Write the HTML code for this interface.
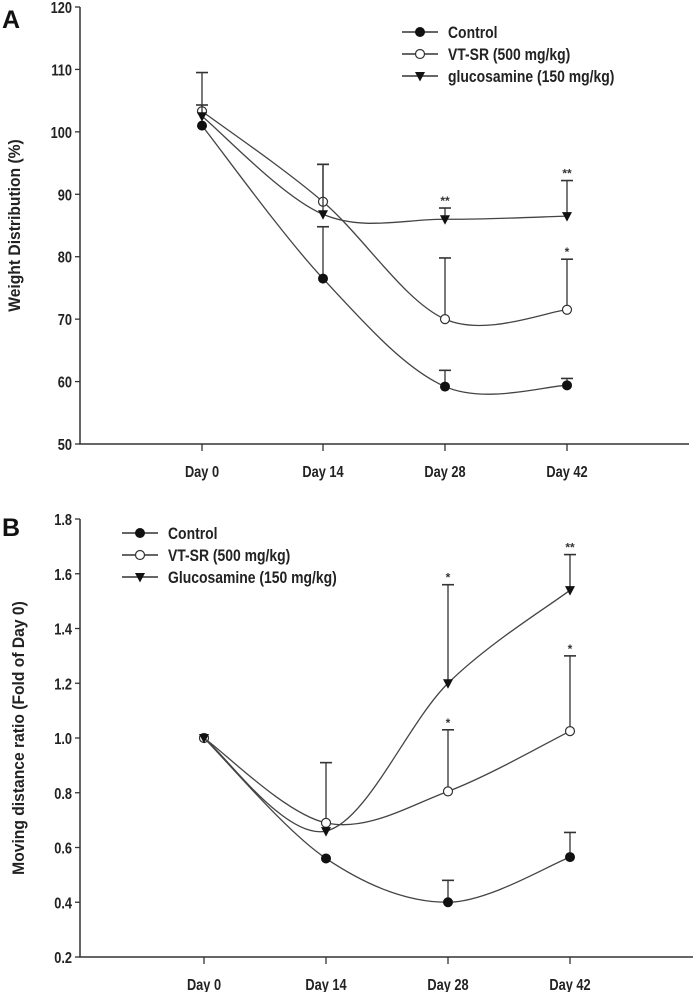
<!DOCTYPE html>
<html><head><meta charset="utf-8"><style>
html,body{margin:0;padding:0;background:#fff;}
svg{display:block;font-family:"Liberation Sans",Arial,sans-serif;font-weight:bold;}
</style></head><body>
<svg id="svg" width="693" height="992" viewBox="0 0 693 992" xmlns="http://www.w3.org/2000/svg"></svg>
<script>
const categories = ["Day 0","Day 14","Day 28","Day 42"];
// Panel A
const aTicks = [50,60,70,80,90,100,110,120];
const aControl = [101,76.5,59.2,59.4];
const aControlErr = [null,84.8,61.8,60.5];
const aVT = [103.3,88.8,70,71.5];
const aVTErr = [104.3,94.8,79.8,79.6];
const aGluc = [102.5,86.8,86,86.5];
const aGlucErr = [109.5,94.8,87.8,92.2];
const aGlucStars = ["","","**","**"];
const aVTStars = ["","","","*"];
// Panel B
const bTicks = [0.2,0.4,0.6,0.8,1.0,1.2,1.4,1.6,1.8];
const bControl = [1.0,0.56,0.40,0.565];
const bControlErr = [null,null,0.48,0.655];
const bVT = [1.0,0.69,0.805,1.025];
const bVTErr = [null,0.91,1.03,1.30];
const bGluc = [1.0,0.66,1.20,1.54];
const bGlucErr = [null,null,1.56,1.67];
const bGlucStars = ["","","*","**"];
const bVTStars = ["","","*","*"];

const NS="http://www.w3.org/2000/svg";
const svg=document.getElementById('svg');
function mk(tag,attrs,parent){const e=document.createElementNS(NS,tag);for(const k in attrs)e.setAttribute(k,attrs[k]);(parent||svg).appendChild(e);return e;}
function txt(s,attrs,parent){const e=mk('text',attrs,parent);e.textContent=s;return e;}
// condensed text: place at (x,y) and squeeze horizontally
function ctxt(s,x,y,size,anchor,parent,sx){
  const e=mk('text',{transform:`translate(${x},${y}) scale(${sx||0.8},1)`,x:0,y:0,'font-size':size,'text-anchor':anchor||'start',fill:'#222'},parent);
  e.textContent=s;return e;
}

function spline(pts){
  let d=`M${pts[0][0]},${pts[0][1]}`;
  for(let i=0;i<pts.length-1;i++){
    const p0=pts[i-1]||pts[i],p1=pts[i],p2=pts[i+1],p3=pts[i+2]||pts[i+1];
    const c1=[p1[0]+(p2[0]-p0[0])/6,p1[1]+(p2[1]-p0[1])/6];
    const c2=[p2[0]-(p3[0]-p1[0])/6,p2[1]-(p3[1]-p1[1])/6];
    d+=` C${c1[0]},${c1[1]} ${c2[0]},${c2[1]} ${p2[0]},${p2[1]}`;
  }
  return d;
}
function marker(g,type,x,y,r){
  if(type==='filled'){const c=mk('circle',{cx:x,cy:y,r:r,fill:'#111',stroke:'#111'},g);}
  else if(type==='open'){const c=mk('circle',{cx:x,cy:y,r:r,fill:'#fff',stroke:'#333','stroke-width':1.2},g);}
  else {const p=mk('polygon',{points:`${x-r-0.5},${y-r+0.5} ${x+r+0.5},${y-r+0.5} ${x},${y+r+1}`,fill:'#111'},g);}
}

function panel(o){
  const g=mk('g',{});
  
  
  const y=v=>o.yBot-(v-o.min)/(o.max-o.min)*(o.yBot-o.yTop);
  const x=i=>o.xs[i];
  const ax=mk('path',{d:`M${o.ax},${o.yTop} V${o.yBot} H${o.axEnd}`,stroke:'#333','stroke-width':1.5,fill:'none'},g);
  
  o.ticks.forEach(t=>{
    mk('line',{x1:o.ax-5,x2:o.ax,y1:y(t),y2:y(t),stroke:'#333','stroke-width':1.3},g);
    const l=ctxt(o.fmt(t),o.ax-8,y(t)+6,16,'end',g);
    
  });
  categories.forEach((c,i)=>{
    mk('line',{x1:x(i),x2:x(i),y1:o.yBot,y2:o.yBot+7,stroke:'#333','stroke-width':1.3},g);
    const l=ctxt(c,x(i),o.yBot+33,16,'middle',g);
    
  });
  const yt=txt(o.ytitle,{transform:`translate(${o.ytx},${(o.yTop+o.yBot)/2}) rotate(-90) scale(0.92,1)`,'text-anchor':'middle','font-size':17,fill:'#222'},g);
  
  const pl=txt(o.letter,{x:2,y:o.letterY,'font-size':25,fill:'#111'},g);
  
  o.series.forEach(s=>{
    const pts=s.vals.map((v,i)=>[x(i),y(v)]);
    s.err.forEach((e,i)=>{if(e==null)return;
      mk('line',{x1:x(i),x2:x(i),y1:y(s.vals[i]),y2:y(e),stroke:'#333','stroke-width':1.3},g);
      mk('line',{x1:x(i)-6,x2:x(i)+6,y1:y(e),y2:y(e),stroke:'#333','stroke-width':1.6},g);
    });
    (s.stars||[]).forEach((st,i)=>{if(!st)return;
      const t=txt(st,{x:x(i),y:y(s.err[i])-3,'text-anchor':'middle','font-size':12,fill:'#333'},g);
      
    });
    const p=mk('path',{d:spline(pts),fill:'none',stroke:'#444','stroke-width':1.3},g);
    
    pts.forEach(pt=>marker(g,s.type,pt[0],pt[1],4.5));
  });
  o.series.forEach((s,i)=>{
    const ly=o.legY+i*22;
    const lg=mk('g',{},g);
    
    mk('line',{x1:o.legX,x2:o.legX+36,y1:ly,y2:ly,stroke:'#333','stroke-width':1.4},lg);
    marker(lg,s.type,o.legX+18,ly,4.5);
    ctxt(s.label,o.legX+46,ly+6,17,'start',lg,0.82);
  });
}

panel({name:'panel-a',letter:'A',letterY:28,min:50,max:120,yTop:7,yBot:444,ax:80,axEnd:689,
  xs:[202,323,445,567],ticks:aTicks,fmt:t=>String(t),ytitle:'Weight Distribution (%)',ytx:20,legX:402,legY:32,
  series:[
   {name:'control',type:'filled',vals:aControl,err:aControlErr,label:'Control'},
   {name:'vt-sr',type:'open',vals:aVT,err:aVTErr,stars:aVTStars,label:'VT-SR (500 mg/kg)'},
   {name:'glucosamine',type:'tri',vals:aGluc,err:aGlucErr,stars:aGlucStars,label:'glucosamine (150 mg/kg)'}]});
panel({name:'panel-b',letter:'B',letterY:536,min:0.2,max:1.8,yTop:519,yBot:957,ax:80,axEnd:693,
  xs:[204,326,448,570],ticks:bTicks,fmt:t=>t.toFixed(1),ytitle:'Moving distance ratio (Fold of Day 0)',ytx:24,legX:122,legY:533,
  series:[
   {name:'control',type:'filled',vals:bControl,err:bControlErr,label:'Control'},
   {name:'vt-sr',type:'open',vals:bVT,err:bVTErr,stars:bVTStars,label:'VT-SR (500 mg/kg)'},
   {name:'glucosamine',type:'tri',vals:bGluc,err:bGlucErr,stars:bGlucStars,label:'Glucosamine (150 mg/kg)'}]});
</script>
</body></html>
